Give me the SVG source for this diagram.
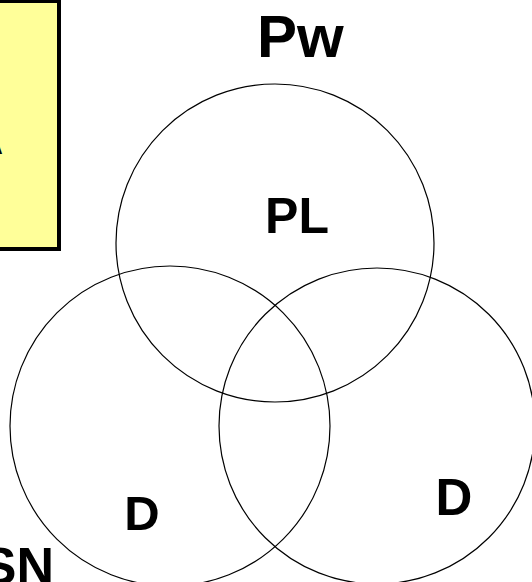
<svg xmlns="http://www.w3.org/2000/svg" width="532" height="582" viewBox="0 0 532 582">
<style>
.set{fill:none;stroke:#000;stroke-width:1.2}
.lbl{font-family:"Liberation Sans",Arial,sans-serif;font-weight:bold;fill:#000}
</style>
<rect width="532" height="582" fill="#fff"/>
<g id="note">
<rect x="-30" y="1" width="89" height="248" fill="#ffff99" stroke="#000" stroke-width="4"/>
<text class="lbl" x="3" y="154" font-size="36" text-anchor="end">A</text>
</g>
<g id="circle-pl">
<circle class="set" cx="275" cy="243" r="159"/>
<text class="lbl" x="297" y="233" font-size="50" text-anchor="middle">PL</text>
</g>
<g id="circle-left">
<circle class="set" cx="170" cy="426" r="160"/>
<text class="lbl" x="142" y="530" font-size="49" text-anchor="middle">D</text>
</g>
<g id="circle-right">
<circle class="set" cx="377" cy="426" r="158"/>
<text class="lbl" x="454" y="515" font-size="51" text-anchor="middle">D</text>
</g>
<g id="label-pw">
<text class="lbl" x="257" y="57" font-size="60">Pw</text>
</g>
<g id="label-sn">
<text class="lbl" x="54" y="584" font-size="52" text-anchor="end">SN</text>
</g>
</svg>
